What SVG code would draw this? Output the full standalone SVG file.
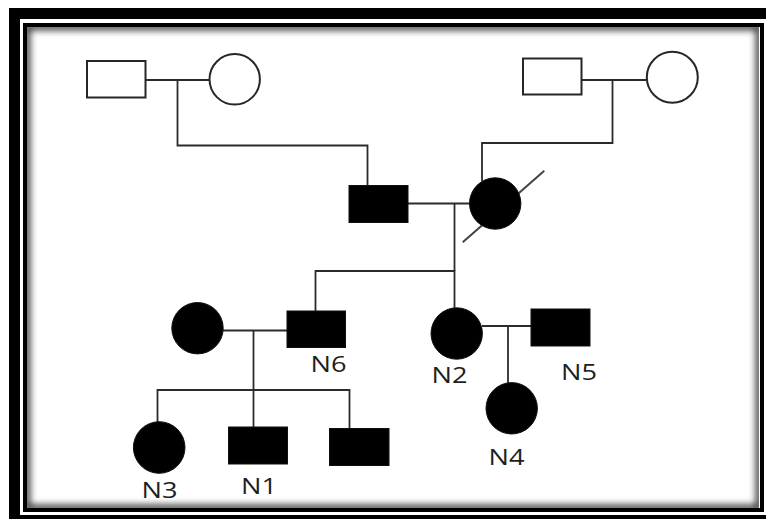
<svg xmlns="http://www.w3.org/2000/svg" width="766" height="519" viewBox="0 0 766 519">
  <defs>
    <style>
      .line { fill: none; stroke: #2b2b2b; stroke-width: 1.8; }
      .open { fill: #ffffff; stroke: #262626; stroke-width: 2; }
      .filled { fill: #000000; stroke: #111111; stroke-width: 1; }
      .label { font-family: "Open Sans", "DejaVu Sans", sans-serif; font-size: 22px; fill: #1e1e1e; }
    </style>
    <clipPath id="inner-area">
      <rect x="27" y="27" width="732" height="481"/>
    </clipPath>
    <filter id="soft" x="-5%" y="-5%" width="110%" height="110%">
      <feGaussianBlur stdDeviation="3.5"/>
    </filter>
  </defs>

  <!-- double frame with inner shading -->
  <g id="frame">
    <rect x="9" y="8" width="800" height="560" fill="#000000"/>
    <rect x="20" y="19" width="780" height="496" fill="#ffffff"/>
    <g clip-path="url(#inner-area)">
      <rect x="27" y="27" width="732" height="481" fill="none" stroke="#000000" stroke-width="6" stroke-opacity="0.85" filter="url(#soft)"/>
    </g>
    <rect x="25" y="25" width="737" height="485" fill="none" stroke="#000000" stroke-width="4"/>
  </g>

  <!-- connectors -->
  <g id="connectors">
    <!-- top-left couple to son -->
    <line class="line" x1="146" y1="80" x2="209" y2="80"/>
    <polyline class="line" points="177.5,80 177.5,145.5 367.5,145.5 367.5,185"/>
    <!-- top-right couple to daughter -->
    <line class="line" x1="582" y1="80" x2="646" y2="80"/>
    <polyline class="line" points="612.5,80 612.5,143 482,143 482,181"/>
    <!-- middle couple -->
    <line class="line" x1="408" y1="203.5" x2="470" y2="203.5"/>
    <polyline class="line" points="454.5,203.5 454.5,271"/>
    <polyline class="line" points="315.5,311 315.5,271 454.5,271 454.5,308"/>
    <!-- N6 couple and their children -->
    <line class="line" x1="223" y1="330.5" x2="287" y2="330.5"/>
    <line class="line" x1="253.5" y1="330.5" x2="253.5" y2="427"/>
    <polyline class="line" points="157.5,422 157.5,390 349.5,390 349.5,428"/>
    <!-- N2 couple and child -->
    <line class="line" x1="482" y1="326" x2="531" y2="326"/>
    <line class="line" x1="508" y1="326" x2="508" y2="383"/>
    <!-- deceased mark -->
    <line x1="462.7" y1="242.3" x2="544.3" y2="170.7" stroke="#444444" stroke-width="2"/>
  </g>

  <!-- generation I -->
  <g id="gp-left-male"><rect class="open" x="87" y="61" width="58.5" height="36.5"/></g>
  <g id="gp-left-female"><circle class="open" cx="234.7" cy="79.3" r="25.2"/></g>
  <g id="gp-right-male"><rect class="open" x="523" y="58.5" width="58.5" height="36"/></g>
  <g id="gp-right-female"><circle class="open" cx="672.3" cy="77.2" r="25.5"/></g>

  <!-- generation II -->
  <g id="father"><rect class="filled" x="349" y="185.5" width="59" height="37"/></g>
  <g id="mother"><circle class="filled" cx="495.2" cy="203.5" r="25.7"/></g>

  <!-- generation III -->
  <g id="spouse-n6"><circle class="filled" cx="197.5" cy="328.2" r="25.7"/></g>
  <g id="n6">
    <rect class="filled" x="287" y="311" width="58.5" height="36.5"/>
    <text class="label" x="310.5" y="371.7" textLength="36" lengthAdjust="spacingAndGlyphs">N6</text>
  </g>
  <g id="n2">
    <circle class="filled" cx="456.7" cy="333.5" r="25.7"/>
    <text class="label" x="431.5" y="383" textLength="36" lengthAdjust="spacingAndGlyphs">N2</text>
  </g>
  <g id="n5">
    <rect class="filled" x="531" y="309" width="59" height="37"/>
    <text class="label" x="561" y="380" textLength="36" lengthAdjust="spacingAndGlyphs">N5</text>
  </g>

  <!-- generation IV -->
  <g id="n3">
    <circle class="filled" cx="159.2" cy="447.5" r="25.8"/>
    <text class="label" x="141.5" y="498" textLength="36" lengthAdjust="spacingAndGlyphs">N3</text>
  </g>
  <g id="n1">
    <rect class="filled" x="228.5" y="427" width="59" height="37"/>
    <text class="label" x="241" y="494.3" textLength="36" lengthAdjust="spacingAndGlyphs">N1</text>
  </g>
  <g id="son-iv">
    <rect class="filled" x="329.5" y="428.5" width="59.5" height="37"/>
  </g>
  <g id="n4">
    <circle class="filled" cx="511.7" cy="408.3" r="25.7"/>
    <text class="label" x="488.5" y="465" textLength="36" lengthAdjust="spacingAndGlyphs">N4</text>
  </g>
</svg>
